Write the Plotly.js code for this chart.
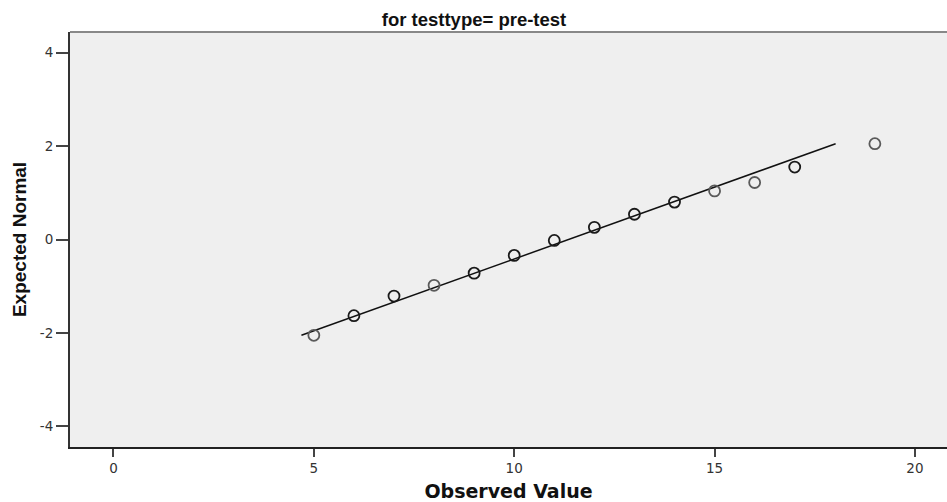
<!DOCTYPE html>
<html>
<head>
<meta charset="utf-8">
<script src="https://cdn.plot.ly/plotly-3.0.1.min.js"></script>
<style>
  html, body { margin: 0; padding: 0; background: #ffffff; }
  #chart { width: 947px; height: 502px; }
</style>
</head>
<body>
<div id="chart"></div>
<script>
// Normal Q-Q plot of the pre-test scores
const observed = [5, 6, 7, 8, 9, 10, 11, 12, 13, 14, 15, 16, 17, 19];
const expectedNormal = [-2.05, -1.63, -1.21, -0.98, -0.72, -0.34, -0.02, 0.26, 0.54, 0.80, 1.04, 1.22, 1.55, 2.05];
// number of cases sharing each observed value (ties overlap and print darker)
const cases = [1, 2, 3, 1, 3, 3, 2, 3, 2, 2, 1, 1, 2, 1];

// reference line endpoints (observed, expected)
const refLineX = [4.69, 18.02];
const refLineY = [-2.05, 2.05];

const xTicks = [0, 5, 10, 15, 20];
const yTicks = [-4, -2, 0, 2, 4];

const markerColors = cases.map(n => n > 1 ? '#1a1a1a' : '#5a5a5a');

const traces = [
  {
    x: refLineX, y: refLineY,
    type: 'scatter', mode: 'lines',
    line: { color: '#111111', width: 1.5 },
    hoverinfo: 'skip', showlegend: false
  },
  {
    x: observed, y: expectedNormal,
    type: 'scatter', mode: 'markers',
    marker: { symbol: 'circle-open', size: 11, color: markerColors, line: { width: 1.8 } },
    showlegend: false
  }
];

const tickFont = { family: 'DejaVu Sans, Verdana, sans-serif', size: 13.5, color: '#333333' };

const layout = {
  width: 947, height: 502,
  margin: { l: 70, r: 0, t: 32, b: 55 },
  paper_bgcolor: '#ffffff',
  plot_bgcolor: '#efefef',
  showlegend: false,
  title: {
    text: '<b>for testtype= pre-test</b>',
    font: { family: 'Liberation Sans, Arial, sans-serif', size: 18.5, color: '#111111' },
    x: 474 / 947, xref: 'container', xanchor: 'center',
    y: 1 - 20 / 502, yref: 'container', yanchor: 'middle'
  },
  xaxis: {
    range: [-1.085, 20.8],
    tickmode: 'array', tickvals: xTicks, ticktext: xTicks.map(String),
    ticks: 'outside', ticklen: 8, tickwidth: 2, tickcolor: '#444444',
    showgrid: false, zeroline: false,
    showline: true, linecolor: '#222222', linewidth: 2,
    tickfont: tickFont,
    title: {
      text: '<b>Observed Value</b>',
      font: { family: 'DejaVu Sans, Verdana, sans-serif', size: 19, color: '#111111' },
      standoff: 12
    }
  },
  yaxis: {
    range: [-4.44, 4.44],
    tickmode: 'array', tickvals: yTicks, ticktext: yTicks.map(String),
    ticks: 'outside', ticklen: 12, tickwidth: 2, tickcolor: '#444444',
    showgrid: false, zeroline: false,
    showline: true, linecolor: '#333333', linewidth: 2,
    tickfont: tickFont,
    title: {
      text: '<b>Expected Normal</b>',
      font: { family: 'Liberation Sans Narrow, Arial Narrow, Liberation Sans, sans-serif', size: 19, color: '#111111' },
      standoff: 8
    }
  },
  shapes: [
    {
      type: 'line', xref: 'paper', yref: 'paper',
      x0: 0, x1: 1, y0: 1, y1: 1,
      line: { color: '#888888', width: 2 }
    }
  ]
};

Plotly.newPlot('chart', traces, layout, { staticPlot: true, displayModeBar: false });
</script>
</body>
</html>
